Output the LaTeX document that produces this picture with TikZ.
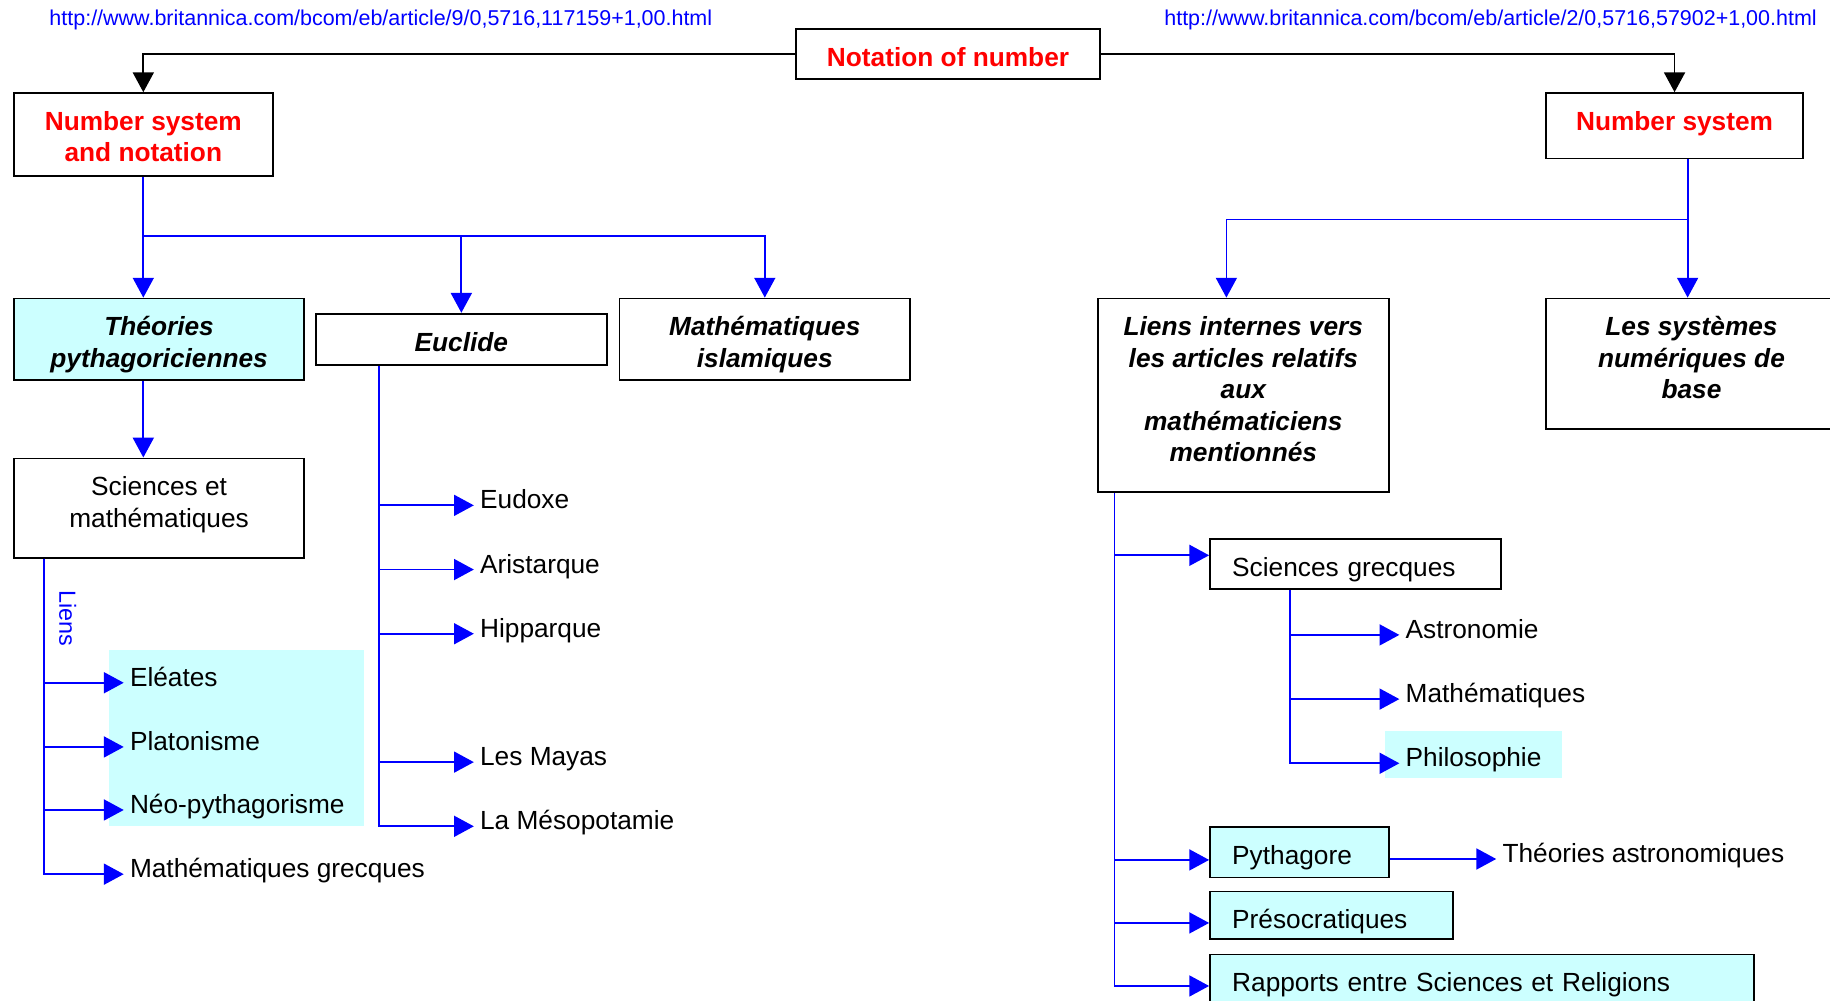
\documentclass[tikz,border=0pt]{standalone}
\usepackage{fontspec}
\setmainfont{Liberation Sans}
\usetikzlibrary{positioning,arrows.meta}
\definecolor{bleulien}{RGB}{0,0,255}
\definecolor{rougetitre}{RGB}{255,0,0}
\definecolor{cyanclair}{RGB}{204,255,255}

\begin{document}
\begin{tikzpicture}[x=1pt, y=-1pt, thick,
  every node/.style = {font = \fontsize{22.5}{27}\selectfont, inner sep = 0pt},
  cadre/.style = {rectangle, draw = black, line width = 1.6pt, anchor = north west, align = center, text height = 32pt},
  titre/.style = {text = rougetitre, font = \fontsize{22.5}{27}\selectfont\bfseries},
  theme/.style = {font = \fontsize{22.5}{27}\selectfont\bfseries\itshape},
  gauche/.style = {align = left, inner xsep = 19pt},
  colore/.style = {fill = cyanclair},
  feuille/.style = {anchor = west, inner xsep = 5pt, text height = 17pt, text depth = 11pt},
  url/.style = {text = bleulien, font = \fontsize{18.4}{22}\selectfont},
  lien/.style = {draw = bleulien, line width = 1.5pt},
  noir/.style = {draw = black, line width = 1.5pt},
  fleche/.style = {-{Triangle[length=17pt, width=18pt]}}]
  \useasboundingbox (0,0) rectangle (1568,857);

  % fonds colores
  \fill[cyanclair] (93,557) rectangle (312,708);
  \fill[cyanclair] (1187,626) rectangle (1338,667);

  % adresses
  \node[url, anchor = west] (urlg) at (42,17) {http://www.britannica.com/bcom/eb/article/9/0,5716,117159+1,00.html};
  \node[url, anchor = east] (urld) at (1557,17) {http://www.britannica.com/bcom/eb/article/2/0,5716,57902+1,00.html};

  % cadres
  \node[cadre, titre, minimum width = 261pt, text depth = 11pt] (notation) at (681,24) {Notation of number};
  \node[cadre, titre, minimum width = 222pt, text height = 59pt, text depth = 12pt] (nsn) at (11,79) {Number system\\and notation};
  \node[cadre, titre, minimum width = 220pt, text depth = 24pt] (ns) at (1324,79) {Number system};
  \node[cadre, theme, colore, minimum width = 249pt, text height = 59pt, text depth = 11pt] (theo) at (11,255) {Théories\\pythagoriciennes};
  \node[cadre, theme, minimum width = 249pt, text depth = 12pt] (eucl) at (270,268) {Euclide};
  \node[cadre, theme, minimum width = 249pt, text height = 59pt, text depth = 11pt] (islam) at (530,255) {Mathématiques\\islamiques};
  \node[cadre, minimum width = 249pt, text height = 59pt, text depth = 26pt] (scm) at (11,392) {Sciences et\\mathématiques};
  \node[cadre, theme, minimum width = 249pt, text height = 140pt, text depth = 26pt] (liens) at (940,255) {Liens internes vers\\les articles relatifs\\aux\\mathématiciens\\mentionnés};
  \node[cadre, theme, minimum width = 249pt, text height = 86pt, text depth = 26pt] (sys) at (1324,255) {Les systèmes\\numériques de\\base};
  \node[cadre, gauche, text width = 211pt, text depth = 11pt] (scgr) at (1036,461) {Sciences grecques};
  \node[cadre, gauche, colore, text width = 115pt, text depth = 11pt] (pyth) at (1036,708) {Pythagore};
  \node[cadre, gauche, colore, text width = 170pt, text depth = 9pt] (preso) at (1036,763) {Présocratiques};
  \node[cadre, gauche, colore, text width = 428pt, text depth = 13pt] (rapp) at (1036,817) {Rapports entre Sciences et Religions};

  % feuilles
  \node[feuille] (elea) at (106,585) {Eléates};
  \node[feuille] (plat) at (106,640) {Platonisme};
  \node[feuille] (neo) at (106,694) {Néo-pythagorisme};
  \node[feuille] (mgr) at (106,749) {Mathématiques grecques};
  \node[feuille] (eudo) at (406,433) {Eudoxe};
  \node[feuille] (aris) at (406,488) {Aristarque};
  \node[feuille] (hipp) at (406,543) {Hipparque};
  \node[feuille] (maya) at (406,653) {Les Mayas};
  \node[feuille] (meso) at (406,708) {La Mésopotamie};
  \node[feuille] (astr) at (1199,544) {Astronomie};
  \node[feuille] (math) at (1199,599) {Mathématiques};
  \node[feuille] (philo) at (1199,654) {Philosophie};
  \node[feuille] (thastr) at (1282,736) {Théories astronomiques};
  \node[rotate = -90, text = bleulien, font = \fontsize{20}{24}\selectfont] (mot) at (58,530) {Liens};

  \coordinate (jA) at (nsn.south |- 0,202);
  \coordinate (jB) at (1446,188);
  \coordinate (cL) at ([xshift=27pt]scm.south west);
  \coordinate (cE) at ([xshift=55pt]eucl.south west);
  \coordinate (cR) at ([xshift=15pt]liens.south west);
  \coordinate (cS) at ([xshift=69pt]scgr.south west);

  % liaisons
  \draw[noir, fleche] (notation.west) -| (nsn.north);
  \draw[noir, fleche] (notation.east) -| (ns.north);

  \draw[lien] (nsn.south) -- (jA);
  \draw[lien, fleche] (jA) -- (nsn.south |- theo.north);
  \draw[lien, fleche] (jA) -| (eucl.north);
  \draw[lien, fleche] (jA) -| (islam.north);
  \draw[lien, fleche] (nsn.south |- theo.south) -- (nsn.south |- scm.north);

  \draw[lien, fleche] (cL) |- (elea.west);
  \draw[lien, fleche] (cL) |- (plat.west);
  \draw[lien, fleche] (cL) |- (neo.west);
  \draw[lien, fleche] (cL) |- (mgr.west);

  \draw[lien, fleche] (cE) |- (eudo.west);
  \draw[lien, fleche] (cE) |- (aris.west);
  \draw[lien, fleche] (cE) |- (hipp.west);
  \draw[lien, fleche] (cE) |- (maya.west);
  \draw[lien, fleche] (cE) |- (meso.west);

  \draw[lien] (jB |- ns.south) -- (jB);
  \draw[lien, fleche] (jB) -- (jB |- sys.north);
  \draw[lien, fleche] (jB) -| ([xshift=-14.5pt]liens.north);

  \draw[lien, fleche] (cR) |- ([yshift=7.5pt]scgr.west);
  \draw[lien, fleche] (cR) |- ([yshift=-6.5pt]pyth.west);
  \draw[lien, fleche] (cR) |- ([yshift=-6.5pt]preso.west);
  \draw[lien, fleche] (cR) |- ([yshift=-4.5pt]rapp.west);

  \draw[lien, fleche] (cS) |- (astr.west);
  \draw[lien, fleche] (cS) |- (math.west);
  \draw[lien, fleche] (cS) |- (philo.west);
  \draw[lien, fleche] (pyth.east |- thastr.west) -- (thastr.west);
\end{tikzpicture}
\end{document}
